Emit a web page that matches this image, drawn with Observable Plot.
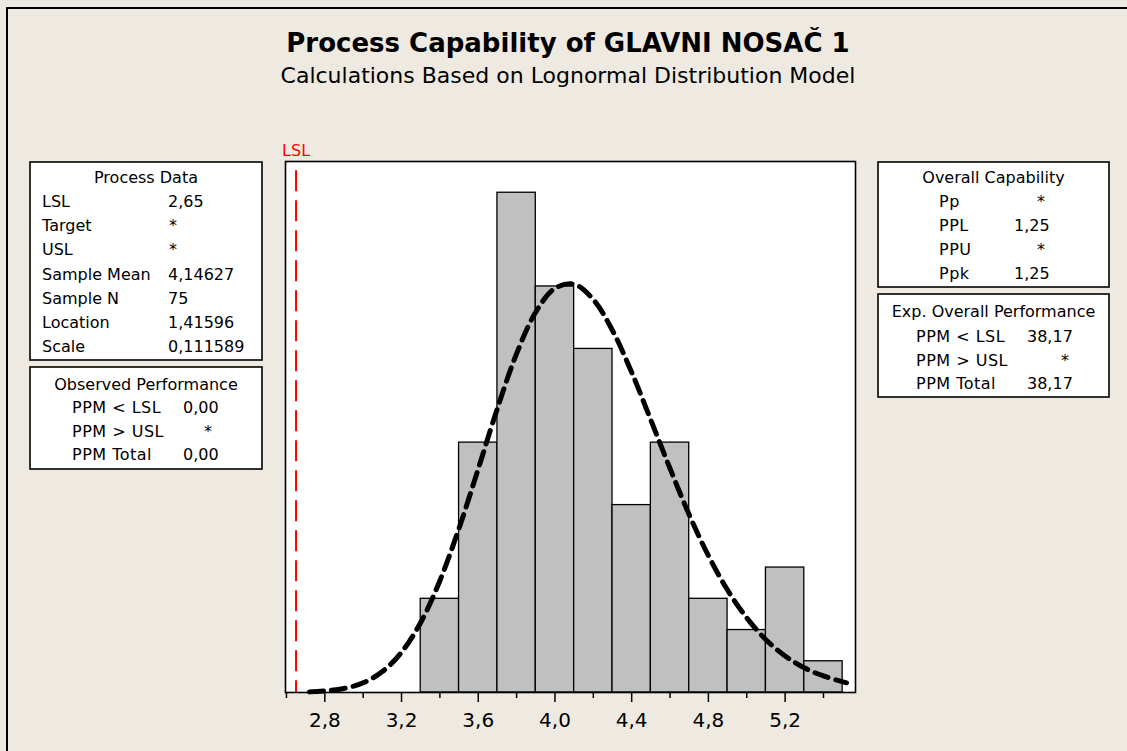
<!DOCTYPE html>
<html>
<head>
<meta charset="utf-8">
<script src="https://cdn.jsdelivr.net/npm/d3@7"></script>
<script src="https://cdn.jsdelivr.net/npm/@observablehq/plot@0.6"></script>
<style>
  html, body { margin: 0; padding: 0; overflow: hidden; background: #EEEAE1; }
  #wrap { position: relative; width: 1127px; height: 751px; overflow: hidden; background: #EEEAE1; font-family: "DejaVu Sans", sans-serif; }
  #border { position: absolute; left: 6px; top: 7px; width: 1300px; height: 1000px; border: 2px solid #000; box-sizing: border-box; }
  .ttl { position: absolute; left: 0; width: 1136px; text-align: center; color: #000; white-space: nowrap; }
  #chart { position: absolute; left: 0; top: 0; }
  #boxes { position: absolute; left: 0; top: 0; }
</style>
</head>
<body>
<div id="wrap">
  <div id="border"></div>
  <div class="ttl" id="title" style="top:28px;font-size:26px;font-weight:bold;">Process Capability of GLAVNI NOSAČ 1</div>
  <div class="ttl" id="subtitle" style="top:63px;font-size:22px;">Calculations Based on Lognormal Distribution Model</div>
  <div id="chart"></div>
  <svg id="boxes" width="1127" height="751"></svg>
</div>
<script>
// ---- data ----
const binStart = [3.3, 3.5, 3.7, 3.9, 4.1, 4.3, 4.5, 4.7, 4.9, 5.1, 5.3];
const binEnd   = [3.5, 3.7, 3.9, 4.1, 4.3, 4.5, 4.7, 4.9, 5.1, 5.3, 5.5];
const counts   = [3, 8, 16, 13, 11, 6, 8, 3, 2, 4, 1];

// fitted lognormal curve (scaled to counts)
const curveX = [2.72, 2.8, 2.9, 3.0, 3.1, 3.2, 3.3, 3.4, 3.5, 3.6, 3.7, 3.8, 3.9, 4.0, 4.1, 4.2, 4.3, 4.4, 4.5, 4.6, 4.7, 4.8, 4.9, 5.0, 5.1, 5.2, 5.3, 5.4, 5.52];
const curveY = [0.02, 0.05, 0.13, 0.31, 0.67, 1.29, 2.24, 3.58, 5.26, 7.16, 9.10, 10.85, 12.18, 12.94, 13.07, 12.58, 11.59, 10.25, 8.72, 7.17, 5.69, 4.38, 3.28, 2.39, 1.69, 1.17, 0.79, 0.53, 0.31];

const lslValue = 2.65;
const minorTicks = [2.6, 3.0, 3.4, 3.8, 4.2, 4.6, 5.0, 5.4];
const majorTicks = [2.8, 3.2, 3.6, 4.0, 4.4, 4.8, 5.2];
const majorTickLabels = ["2,8", "3,2", "3,6", "4,0", "4,4", "4,8", "5,2"];

const processDataLabels = ["LSL", "Target", "USL", "Sample Mean", "Sample N", "Location", "Scale"];
const processDataValues = ["2,65", "*", "*", "4,14627", "75", "1,41596", "0,111589"];
const observedLabels = ["PPM < LSL", "PPM > USL", "PPM Total"];
const observedValues = ["0,00", "*", "0,00"];
const overallCapLabels = ["Pp", "PPL", "PPU", "Ppk"];
const overallCapValues = ["*", "1,25", "*", "1,25"];
const expPerfLabels = ["PPM < LSL", "PPM > USL", "PPM Total"];
const expPerfValues = ["38,17", "*", "38,17"];

// ---- chart ----
const bins = binStart.map((s, i) => ({x1: s, x2: binEnd[i], n: counts[i]}));
const curve = curveX.map((x, i) => ({x, y: curveY[i]}));

const chart = Plot.plot({
  width: 1127,
  height: 751,
  marginLeft: 285,
  marginRight: 272,
  marginTop: 161,
  marginBottom: 59,
  style: {background: "transparent", fontFamily: "DejaVu Sans, sans-serif", color: "black", overflow: "visible"},
  x: {domain: [2.595, 5.567]},
  y: {domain: [0, 17], axis: null},
  marks: [
    Plot.frame({fill: "white"}),
    Plot.rectY(bins, {x1: "x1", x2: "x2", y: "n", fill: "#C0C0C0", stroke: "black", strokeWidth: 1.3}),
    Plot.line(curve, {x: "x", y: "y", stroke: "black", strokeWidth: 5, strokeDasharray: "14,8", curve: "catmull-rom"}),
    Plot.ruleX([lslValue], {x: d => d, y1: 16.7, y2: 0, stroke: "red", strokeWidth: 2, strokeDasharray: "21,9"}),
    Plot.text([lslValue], {x: d => d, frameAnchor: "top", lineAnchor: "bottom", dy: -6, text: () => "LSL", fill: "red", fontSize: 16}),
    Plot.frame({stroke: "black", strokeWidth: 1.6}),
    Plot.axisX(minorTicks, {tickSize: 6, tickFormat: () => "", strokeWidth: 1.5, label: null}),
    Plot.axisX(majorTicks, {tickSize: 10, tickPadding: 10, strokeWidth: 1.5, fontSize: 20, label: null,
      tickFormat: d => majorTickLabels[majorTicks.indexOf(d)]})
  ]
});
document.getElementById("chart").appendChild(chart);

// ---- statistics boxes ----
const svg = d3.select("#boxes");
function box(x0, x1, y0, y1, title, titleBase, labels, values, opt) {
  const g = svg.append("g").attr("font-family", "DejaVu Sans, sans-serif").attr("font-size", 16).attr("fill", "black");
  g.append("rect").attr("x", x0).attr("y", y0).attr("width", x1 - x0).attr("height", y1 - y0)
    .attr("fill", "white").attr("stroke", "black").attr("stroke-width", 1.6);
  g.append("text").attr("x", (x0 + x1) / 2).attr("y", titleBase).attr("text-anchor", "middle").text(title);
  labels.forEach((lab, i) => {
    const yb = opt.rowStart + i * opt.rowStep;
    g.append("text").attr("x", opt.labelX).attr("y", yb).attr("letter-spacing", opt.ls || 0).text(lab);
    const v = values[i];
    if (v === "*") {
      g.append("text").attr("x", opt.starX).attr("y", yb).attr("text-anchor", "middle").text(v);
    } else {
      g.append("text").attr("x", opt.valueX).attr("y", yb).text(v);
    }
  });
}
box(30, 262, 162, 360, "Process Data", 183, processDataLabels, processDataValues,
  {rowStart: 207, rowStep: 24.2, labelX: 42, valueX: 168, starX: 173});
box(30, 262, 367, 469, "Observed Performance", 390, observedLabels, observedValues,
  {rowStart: 413, rowStep: 23.5, labelX: 72, valueX: 183, starX: 208, ls: 0.5});
box(878, 1109, 162, 287, "Overall Capability", 183, overallCapLabels, overallCapValues,
  {rowStart: 207, rowStep: 24, labelX: 939, valueX: 1014, starX: 1041, ls: 0.5});
box(878, 1109, 294, 397, "Exp. Overall Performance", 317, expPerfLabels, expPerfValues,
  {rowStart: 342, rowStep: 23.5, labelX: 916, valueX: 1027, starX: 1065, ls: 0.5});
</script>
</body>
</html>
